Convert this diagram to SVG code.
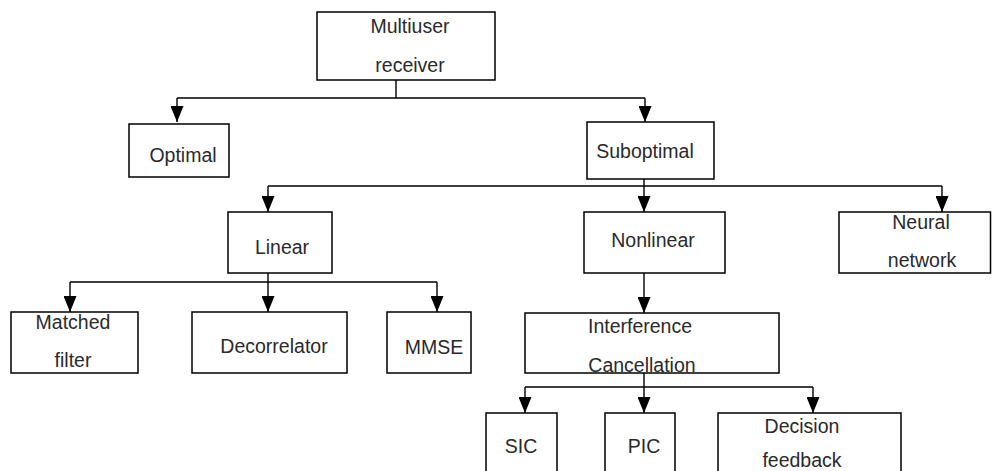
<svg xmlns="http://www.w3.org/2000/svg" width="992" height="471" viewBox="0 0 992 471">
<style>
.box{fill:#fff;stroke:#000;stroke-width:1.5}
.c{fill:none;stroke:#000;stroke-width:1.4}
text{font-family:"Liberation Sans",Arial,sans-serif;font-size:19.5px;fill:#2a2a2a;text-anchor:middle}
</style>
<defs>
<marker id="ah" viewBox="0 0 16 13" refX="16" refY="6.5" markerWidth="16" markerHeight="13" markerUnits="userSpaceOnUse" orient="auto">
<path d="M0,0 L16,6.5 L0,13 z" fill="#000"/>
</marker>
</defs>
<rect width="992" height="471" fill="#fff"/>
<g id="connectors">
<path class="c" d="M396,80 V98 M177,98 H645"/>
<path class="c" d="M177,98 V122" marker-end="url(#ah)"/>
<path class="c" d="M645,98 V122" marker-end="url(#ah)"/>
<path class="c" d="M644,179 V186 M268,186 H942"/>
<path class="c" d="M268,186 V212" marker-end="url(#ah)"/>
<path class="c" d="M644,186 V212" marker-end="url(#ah)"/>
<path class="c" d="M942,186 V212" marker-end="url(#ah)"/>
<path class="c" d="M268,273 V282 M70,282 H437"/>
<path class="c" d="M70,282 V312" marker-end="url(#ah)"/>
<path class="c" d="M268,282 V312" marker-end="url(#ah)"/>
<path class="c" d="M437,282 V312" marker-end="url(#ah)"/>
<path class="c" d="M644,273 V313" marker-end="url(#ah)"/>
<path class="c" d="M644,373 V387 M525,387 H813"/>
<path class="c" d="M525,387 V413" marker-end="url(#ah)"/>
<path class="c" d="M644,387 V413" marker-end="url(#ah)"/>
<path class="c" d="M813,387 V413" marker-end="url(#ah)"/>
</g>
<g id="multiuser"><rect class="box" x="317" y="12" width="178" height="68"/><text x="410" y="33">Multiuser</text><text x="410" y="72">receiver</text></g>
<g id="optimal"><rect class="box" x="129" y="124" width="100" height="53"/><text x="183" y="162">Optimal</text></g>
<g id="suboptimal"><rect class="box" x="587" y="122" width="127" height="57"/><text x="645" y="158">Suboptimal</text></g>
<g id="linear"><rect class="box" x="228" y="212" width="104" height="61"/><text x="282" y="254">Linear</text></g>
<g id="nonlinear"><rect class="box" x="584" y="212" width="141" height="61"/><text x="653" y="247">Nonlinear</text></g>
<g id="neural"><rect class="box" x="839" y="212" width="151.5" height="61"/><text x="921" y="229">Neural</text><text x="922" y="267">network</text></g>
<g id="matched"><rect class="box" x="11" y="312" width="127" height="61"/><text x="73" y="329">Matched</text><text x="73" y="367">filter</text></g>
<g id="decorrelator"><rect class="box" x="192" y="312" width="155" height="61"/><text x="274" y="353">Decorrelator</text></g>
<g id="mmse"><rect class="box" x="387" y="312" width="84" height="61"/><text x="434" y="354">MMSE</text></g>
<g id="interference"><rect class="box" x="525" y="313" width="254" height="60"/><text x="640" y="333">Interference</text><text x="642" y="372">Cancellation</text></g>
<g id="sic"><rect class="box" x="486" y="413" width="71" height="70"/><text x="521" y="453">SIC</text></g>
<g id="pic"><rect class="box" x="605" y="413" width="70" height="70"/><text x="644" y="453">PIC</text></g>
<g id="decision"><rect class="box" x="718" y="413" width="183" height="70"/><text x="802" y="433">Decision</text><text x="802" y="467">feedback</text></g>
</svg>
